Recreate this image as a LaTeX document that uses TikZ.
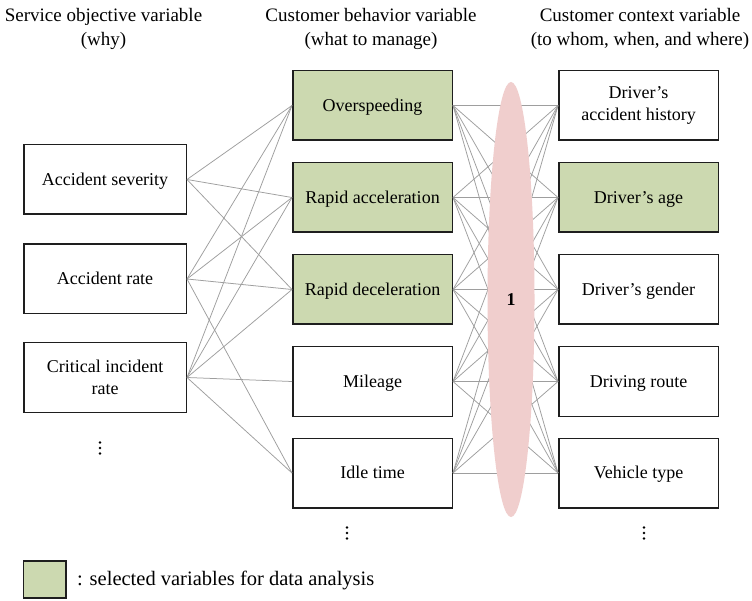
\documentclass[tikz,border=0pt]{standalone}
\usepackage{fontspec}
\setmainfont{Liberation Serif}
\usetikzlibrary{shapes.geometric}
\definecolor{selgreen}{RGB}{204,217,176}
\definecolor{grouppink}{RGB}{240,206,205}
\definecolor{linkgray}{RGB}{158,158,158}
\definecolor{boxline}{RGB}{30,30,30}

\begin{document}
\begin{tikzpicture}[x=1pt,y=-1pt,
  varbox/.style={draw=boxline, line width=1.5pt, fill=white, minimum height=69.5pt,
    inner sep=2pt, align=center, font=\fontsize{18}{21.5}\selectfont},
  oneline/.style={text height=12.3pt, text depth=1pt},
  leftbox/.style={varbox, minimum width=162.5pt},
  colbox/.style={varbox, minimum width=159.5pt},
  selected/.style={fill=selgreen},
  header/.style={align=center, font=\fontsize{19}{24}\selectfont},
  link/.style={draw=linkgray, line width=0.75pt},
  dotmark/.style={fill=black},
]
% canvas
\fill[white] (0,0) rectangle (752,601);
\useasboundingbox (0,0) rectangle (752,601);

% column headings
\node[header] (h1) at (103.5,28.5) {Service objective variable\\(why)};
\node[header] (h2) at (371,28.5) {Customer behavior variable\\(what to manage)};
\node[header] (h3) at (640,28.5) {Customer context variable\\(to whom, when, and where)};

% service objective variables
\node[leftbox,oneline] (sev)  at (105,179.5) {Accident severity};
\node[leftbox,oneline] (rate) at (105,279)   {Accident rate};
\node[leftbox]         (crit) at (105,377.5) {Critical incident\\rate};

% customer behavior variables
\node[colbox,oneline,selected] (os)   at (372.5,105.5) {Overspeeding};
\node[colbox,oneline,selected] (ra)   at (372.5,197.5) {Rapid acceleration};
\node[colbox,oneline,selected] (rd)   at (372.5,289.5) {Rapid deceleration};
\node[colbox,oneline]          (mil)  at (372.5,381.5) {Mileage};
\node[colbox,oneline]          (idle) at (372.5,473)   {Idle time};

% customer context variables
\node[colbox]                  (hist)  at (638.5,105.5) {Driver’s\\accident history};
\node[colbox,oneline,selected] (age)   at (638.5,197.5) {Driver’s age};
\node[colbox,oneline]          (gen)   at (638.5,289.5) {Driver’s gender};
\node[colbox,oneline]          (route) at (638.5,381.5) {Driving route};
\node[colbox,oneline]          (veh)   at (638.5,473)   {Vehicle type};

% links between objectives and behaviors
\foreach \a/\b in {sev/os, sev/ra, sev/rd,
                   rate/os, rate/ra, rate/rd, rate/idle,
                   crit/os, crit/ra, crit/rd, crit/mil, crit/idle}
  \draw[link] (\a.east) -- (\b.west);

% every behavior linked to every context variable
\foreach \a in {os,ra,rd,mil,idle}
  \foreach \b in {hist,age,gen,route,veh}
    \draw[link] (\a.east) -- (\b.west);

% grouping ellipse over the behavior-context links
\node[ellipse, fill=grouppink, minimum width=47pt, minimum height=435pt, inner sep=0pt,
      font=\fontsize{18}{21.5}\selectfont\bfseries] (grp) at (511,299.5) {1};

% continuation marks
\coordinate (dl) at (100,448);
\coordinate (dm) at (347,533);
\coordinate (dr) at (644,533);
\foreach \c in {dl,dm,dr}
  \foreach \d in {-5.5,0,5.5}
    \fill[dotmark] ([yshift=-\d pt]\c) circle (1.4pt);

% legend
\node[draw=boxline, line width=1.5pt, fill=selgreen, minimum width=42.5pt,
      minimum height=37pt, inner sep=0pt] (key) at (44.5,579.5) {};
\node[anchor=west, inner sep=0pt, font=\fontsize{20.5}{24}\selectfont] (keytext)
      at (77,580) {: selected variables for data analysis};
\end{tikzpicture}
\end{document}
